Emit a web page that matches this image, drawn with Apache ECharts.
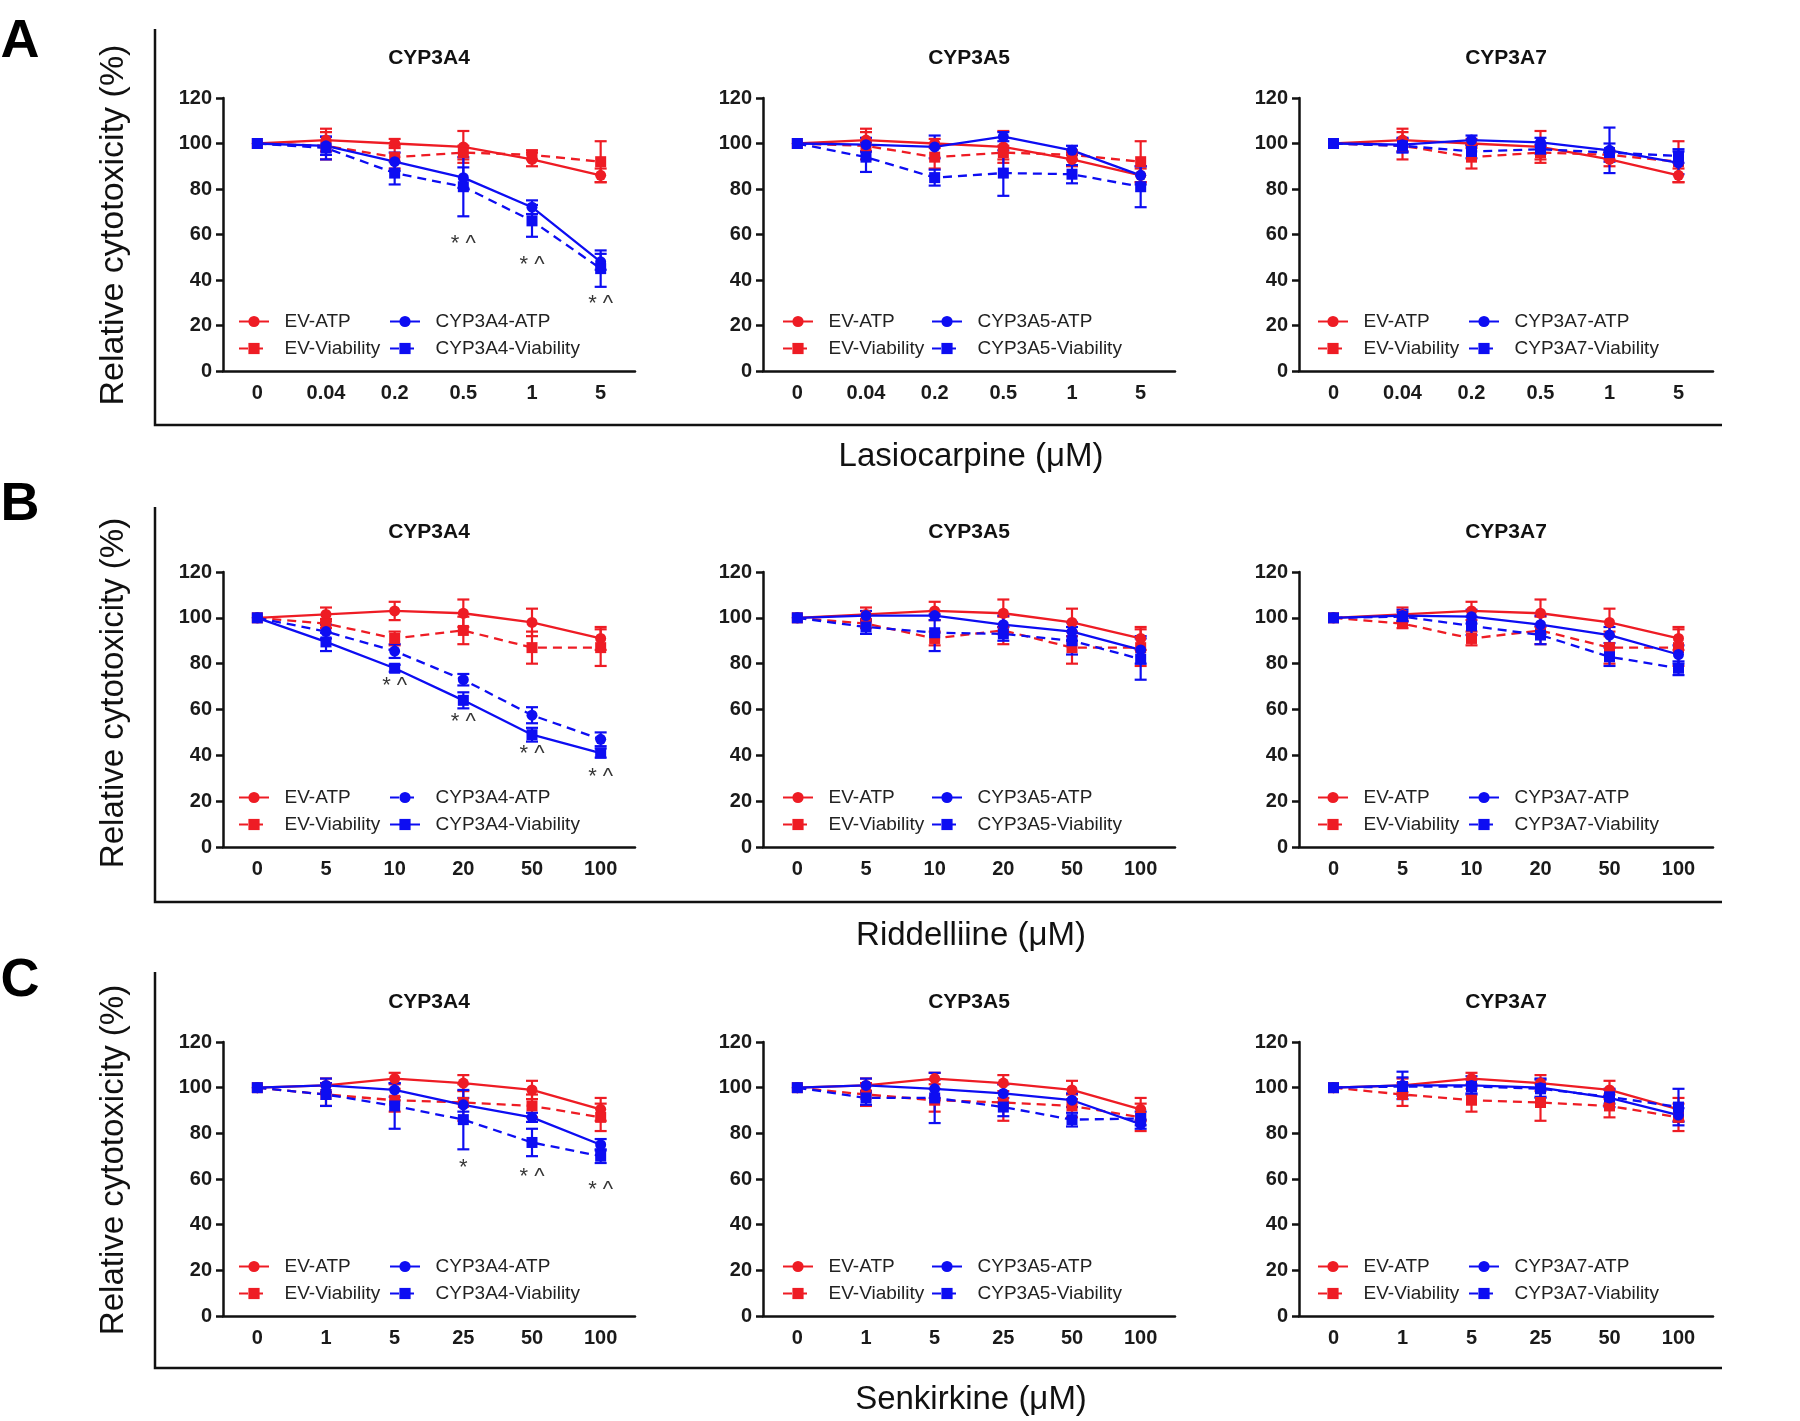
<!DOCTYPE html>
<html>
<head>
<meta charset="utf-8">
<script src="https://cdn.jsdelivr.net/npm/echarts@6.0.0/dist/echarts.min.js"></script>
<style>
  html, body { margin: 0; padding: 0; background: #fff; }
  #chart { width: 1800px; height: 1421px; }
</style>
</head>
<body>
<div id="chart"></div>
<script>
const FONT = 'Arial, "Liberation Sans", Helvetica, sans-serif';
const RED = '#ee1c24';
const BLUE = '#0d0df2';

// dose categories (x tick labels)
const lasioDoses = ['0', '0.04', '0.2', '0.5', '1', '5'];
const riddDoses = ['0', '5', '10', '20', '50', '100'];
const senkDoses = ['0', '1', '5', '25', '50', '100'];

// A: Lasiocarpine
const lasioEvAtp = [100, 101.5, 100, 98.5, 93, 86];
const lasioEvAtpErr = [0, 5, 2, 7, 3, 3];
const lasioEvVia = [100, 99, 94, 96, 95, 92];
const lasioEvViaErr = [0, 6, 5, 3, 2, 9];
const lasio3A4Atp = [100, 99, 92, 85, 72, 48];
const lasio3A4AtpErr = [0, 4, 4, 4.5, 3, 3.5];
const lasio3A4Via = [100, 98, 87, 81, 66, 45];
const lasio3A4ViaErr = [0, 5, 5, 13, 7, 8];
const lasio3A5Atp = [100, 99.5, 98.5, 103, 97, 86];
const lasio3A5AtpErr = [0, 3, 5, 2, 2, 4];
const lasio3A5Via = [100, 94, 85, 87, 86.5, 81];
const lasio3A5ViaErr = [0, 6.5, 3.5, 10, 4, 9];
const lasio3A7Atp = [100, 99.5, 101.5, 100.5, 97, 91.5];
const lasio3A7AtpErr = [0, 3, 2, 2, 10, 5];
const lasio3A7Via = [100, 99, 96.5, 97.5, 96, 94.5];
const lasio3A7ViaErr = [0, 3, 3, 2, 4, 3];
const lasio3A4Marks = [[3, 56, '* ^'], [4, 46.5, '* ^'], [5, 29.5, '* ^']];

// B: Riddelliine
const riddEvAtp = [100, 101.5, 103, 102, 98, 91];
const riddEvAtpErr = [0, 3, 4, 6, 6, 5];
const riddEvVia = [100, 97.5, 91, 94.5, 87, 87];
const riddEvViaErr = [0, 2, 3, 6, 7, 8];
const ridd3A4Atp = [100, 94, 85.5, 73, 57.5, 47];
const ridd3A4AtpErr = [0, 3, 3, 2.5, 3.5, 3];
const ridd3A4Via = [100, 89.5, 78, 64, 49, 41];
const ridd3A4ViaErr = [0, 4, 1.5, 3.5, 3, 2];
const ridd3A5Atp = [100, 101, 101, 97, 94, 86];
const ridd3A5AtpErr = [0, 2, 2, 4, 4, 6];
const ridd3A5Via = [100, 96, 93.5, 93, 90, 82];
const ridd3A5ViaErr = [0, 3, 8, 3, 6, 9];
const ridd3A7Atp = [100, 101, 100.5, 97, 92.5, 84];
const ridd3A7AtpErr = [0, 2.5, 3, 4, 3.5, 4];
const ridd3A7Via = [100, 100.5, 96.5, 92.5, 83, 78];
const ridd3A7ViaErr = [0, 2, 4, 4, 4, 3];
const ridd3A4Marks = [[2, 70.5, '* ^'], [3, 54.5, '* ^'], [4, 40.5, '* ^'], [5, 30.5, '* ^']];

// C: Senkirkine
const senkEvAtp = [100, 101, 104, 102, 99, 90.5];
const senkEvAtpErr = [0, 3, 2.5, 3.5, 4, 5];
const senkEvVia = [100, 97, 94.5, 93.5, 92, 87];
const senkEvViaErr = [0, 5, 5, 8, 5, 6];
const senk3A4Atp = [100, 101, 99, 92.5, 87, 75];
const senk3A4AtpErr = [0, 3, 3, 3, 2, 2.5];
const senk3A4Via = [100, 97, 92, 86, 76, 70];
const senk3A4ViaErr = [0, 5, 10, 13, 6, 3];
const senk3A5Atp = [100, 101, 99.5, 97.5, 94.5, 84];
const senk3A5AtpErr = [0, 3, 4, 4, 3, 2];
const senk3A5Via = [100, 95.5, 95.5, 91.5, 86, 86.5];
const senk3A5ViaErr = [0, 3, 11, 4, 3, 3];
const senk3A7Atp = [100, 101, 101, 100, 95.5, 88];
const senk3A7AtpErr = [0, 6, 4, 4, 4, 3];
const senk3A7Via = [100, 100.5, 100.5, 99.5, 96, 91.5];
const senk3A7ViaErr = [0, 4, 3, 4, 3, 8];
const senk3A4Marks = [[3, 65, '*'], [4, 61, '* ^'], [5, 55, '* ^']];

const rows = [
  {
    letter: 'A', drug: 'Lasiocarpine (μM)', doses: lasioDoses,
    evAtp: [lasioEvAtp, lasioEvAtpErr], evVia: [lasioEvVia, lasioEvViaErr],
    cyps: [
      { name: 'CYP3A4', atp: [lasio3A4Atp, lasio3A4AtpErr], via: [lasio3A4Via, lasio3A4ViaErr], marks: lasio3A4Marks },
      { name: 'CYP3A5', atp: [lasio3A5Atp, lasio3A5AtpErr], via: [lasio3A5Via, lasio3A5ViaErr] },
      { name: 'CYP3A7', atp: [lasio3A7Atp, lasio3A7AtpErr], via: [lasio3A7Via, lasio3A7ViaErr] }
    ]
  },
  {
    letter: 'B', drug: 'Riddelliine (μM)', doses: riddDoses,
    evAtp: [riddEvAtp, riddEvAtpErr], evVia: [riddEvVia, riddEvViaErr],
    cyps: [
      // in this panel the CYP3A4 line styles are swapped (ATP dashed, Viability solid)
      { name: 'CYP3A4', atp: [ridd3A4Atp, ridd3A4AtpErr], via: [ridd3A4Via, ridd3A4ViaErr], marks: ridd3A4Marks, swap: true },
      { name: 'CYP3A5', atp: [ridd3A5Atp, ridd3A5AtpErr], via: [ridd3A5Via, ridd3A5ViaErr] },
      { name: 'CYP3A7', atp: [ridd3A7Atp, ridd3A7AtpErr], via: [ridd3A7Via, ridd3A7ViaErr] }
    ]
  },
  {
    letter: 'C', drug: 'Senkirkine (μM)', doses: senkDoses,
    evAtp: [senkEvAtp, senkEvAtpErr], evVia: [senkEvVia, senkEvViaErr],
    cyps: [
      { name: 'CYP3A4', atp: [senk3A4Atp, senk3A4AtpErr], via: [senk3A4Via, senk3A4ViaErr], marks: senk3A4Marks },
      { name: 'CYP3A5', atp: [senk3A5Atp, senk3A5AtpErr], via: [senk3A5Via, senk3A5ViaErr] },
      { name: 'CYP3A7', atp: [senk3A7Atp, senk3A7AtpErr], via: [senk3A7Via, senk3A7ViaErr] }
    ]
  }
];

// layout (px)
const colLeft = [223, 763, 1299];
const colWidth = [412, 412, 414];
const rowTop = [98, 572, 1042];
const rowHeight = [273, 275, 274];
const frameTop = [29, 507, 972];
const frameBottom = [425, 902, 1368];
const letterY = [42, 505, 981];
const yTitleY = [225, 693, 1160];
const xTitleY = [457, 936, 1400];
const legLeftOff = [15, 19, 18];
const legRightOff = [166, 168, 169];

function renderErr(params, api) {
  const x = api.value(0);
  const lo = api.value(1);
  const hi = api.value(2);
  if (hi === lo) return null;
  const top = api.coord([x, hi]);
  const bot = api.coord([x, lo]);
  const w = 6;
  const style = { stroke: api.visual('color'), lineWidth: 2.2, fill: null };
  return {
    type: 'group',
    children: [
      { type: 'line', shape: { x1: top[0], y1: top[1], x2: bot[0], y2: bot[1] }, style },
      { type: 'line', shape: { x1: top[0] - w, y1: top[1], x2: top[0] + w, y2: top[1] }, style },
      { type: 'line', shape: { x1: bot[0] - w, y1: bot[1], x2: bot[0] + w, y2: bot[1] }, style }
    ]
  };
}

const grid = [], xAxis = [], yAxis = [], series = [], legend = [], graphic = [];

rows.forEach((row, r) => {
  row.cyps.forEach((cyp, c) => {
    const gi = grid.length;
    const prefix = row.letter + c + '|';
    grid.push({ left: colLeft[c], top: rowTop[r], width: colWidth[c], height: rowHeight[r] });
    xAxis.push({
      gridIndex: gi, type: 'category', data: row.doses, boundaryGap: true,
      axisLine: { lineStyle: { color: '#111', width: 2.5 } },
      axisTick: { alignWithLabel: true, length: 7, lineStyle: { color: '#111', width: 2.5 } },
      axisLabel: { margin: 12, color: '#1a1a1a', fontSize: 20, fontWeight: 'bold', fontFamily: FONT },
      splitLine: { show: false }
    });
    yAxis.push({
      gridIndex: gi, type: 'value', min: 0, max: 120, interval: 20,
      axisLine: { show: true, lineStyle: { color: '#111', width: 2.5 } },
      axisTick: { show: true, length: 7, lineStyle: { color: '#111', width: 2.5 } },
      axisLabel: { margin: 11, color: '#1a1a1a', fontSize: 20, fontWeight: 'bold', fontFamily: FONT },
      splitLine: { show: false }
    });

    const defs = [
      { name: 'EV-ATP', d: row.evAtp, color: RED, symbol: 'circle', dashed: false },
      { name: 'EV-Viability', d: row.evVia, color: RED, symbol: 'rect', dashed: true },
      { name: cyp.name + '-ATP', d: cyp.atp, color: BLUE, symbol: 'circle', dashed: !!cyp.swap },
      { name: cyp.name + '-Viability', d: cyp.via, color: BLUE, symbol: 'rect', dashed: !cyp.swap }
    ];

    // error bars first so lines and markers sit on top
    defs.forEach(s => {
      const [mean, err] = s.d;
      series.push({
        type: 'custom', xAxisIndex: gi, yAxisIndex: gi, silent: true,
        itemStyle: { color: s.color },
        renderItem: renderErr,
        encode: { x: 0, y: [1, 2] },
        data: mean.map((v, i) => [i, v - err[i], v + err[i]]),
        z: 2
      });
    });

    defs.forEach(s => {
      series.push({
        name: prefix + s.name, type: 'line', xAxisIndex: gi, yAxisIndex: gi,
        data: s.d[0], symbol: s.symbol, symbolSize: 11, showSymbol: true,
        itemStyle: { color: s.color },
        lineStyle: { color: s.color, width: 2.3, type: s.dashed ? [9, 6] : 'solid' },
        z: 3
      });
    });

    if (cyp.marks) {
      series.push({
        type: 'scatter', xAxisIndex: gi, yAxisIndex: gi, silent: true,
        symbolSize: 1, itemStyle: { color: 'rgba(0,0,0,0)' },
        label: {
          show: true, position: 'inside', formatter: p => p.value[2],
          color: '#000', fontSize: 22, fontFamily: FONT
        },
        data: cyp.marks, z: 4
      });
    }

    const legBase = {
      orient: 'vertical', selectedMode: false, itemWidth: 30, itemHeight: 14, itemGap: 8,
      top: rowTop[r] + rowHeight[r] - 59, padding: 0,
      formatter: n => '  ' + n.split('|')[1],
      textStyle: { fontSize: 19, color: '#222', fontFamily: FONT }
    };
    legend.push(Object.assign({}, legBase, {
      left: colLeft[c] + legLeftOff[c], data: [prefix + defs[0].name, prefix + defs[1].name]
    }));
    legend.push(Object.assign({}, legBase, {
      left: colLeft[c] + legRightOff[c], data: [prefix + defs[2].name, prefix + defs[3].name]
    }));

    graphic.push({
      type: 'text', x: colLeft[c] + colWidth[c] / 2, y: rowTop[r] - 40,
      style: {
        text: cyp.name, font: 'bold 21px ' + FONT, fill: '#111',
        align: 'center', verticalAlign: 'middle', textAlign: 'center', textVerticalAlign: 'middle'
      }
    });
  });

  // panel letter, shared axis titles, row frame
  graphic.push({
    type: 'text', x: 20, y: letterY[r],
    style: {
      text: row.letter, font: 'bold 54px ' + FONT, fill: '#000',
      align: 'center', verticalAlign: 'middle', textAlign: 'center', textVerticalAlign: 'middle'
    }
  });
  graphic.push({
    type: 'text', x: 114, y: yTitleY[r], rotation: Math.PI / 2,
    style: {
      text: 'Relative cytotoxicity (%)', font: (r === 0 ? 34 : 33) + 'px ' + FONT, fill: '#111',
      align: 'center', verticalAlign: 'middle', textAlign: 'center', textVerticalAlign: 'middle'
    }
  });
  graphic.push({
    type: 'text', x: 971, y: xTitleY[r],
    style: {
      text: row.drug, font: '33px ' + FONT, fill: '#111',
      align: 'center', verticalAlign: 'middle', textAlign: 'center', textVerticalAlign: 'middle'
    }
  });
  graphic.push({
    type: 'polyline', silent: true,
    shape: { points: [[155, frameTop[r]], [155, frameBottom[r]], [1722, frameBottom[r]]] },
    style: { stroke: '#111', lineWidth: 2.5, fill: null }
  });
});

const chart = echarts.init(document.getElementById('chart'));
chart.setOption({
  animation: false,
  backgroundColor: '#fff',
  grid, xAxis, yAxis, series, legend, graphic
});
</script>
</body>
</html>
